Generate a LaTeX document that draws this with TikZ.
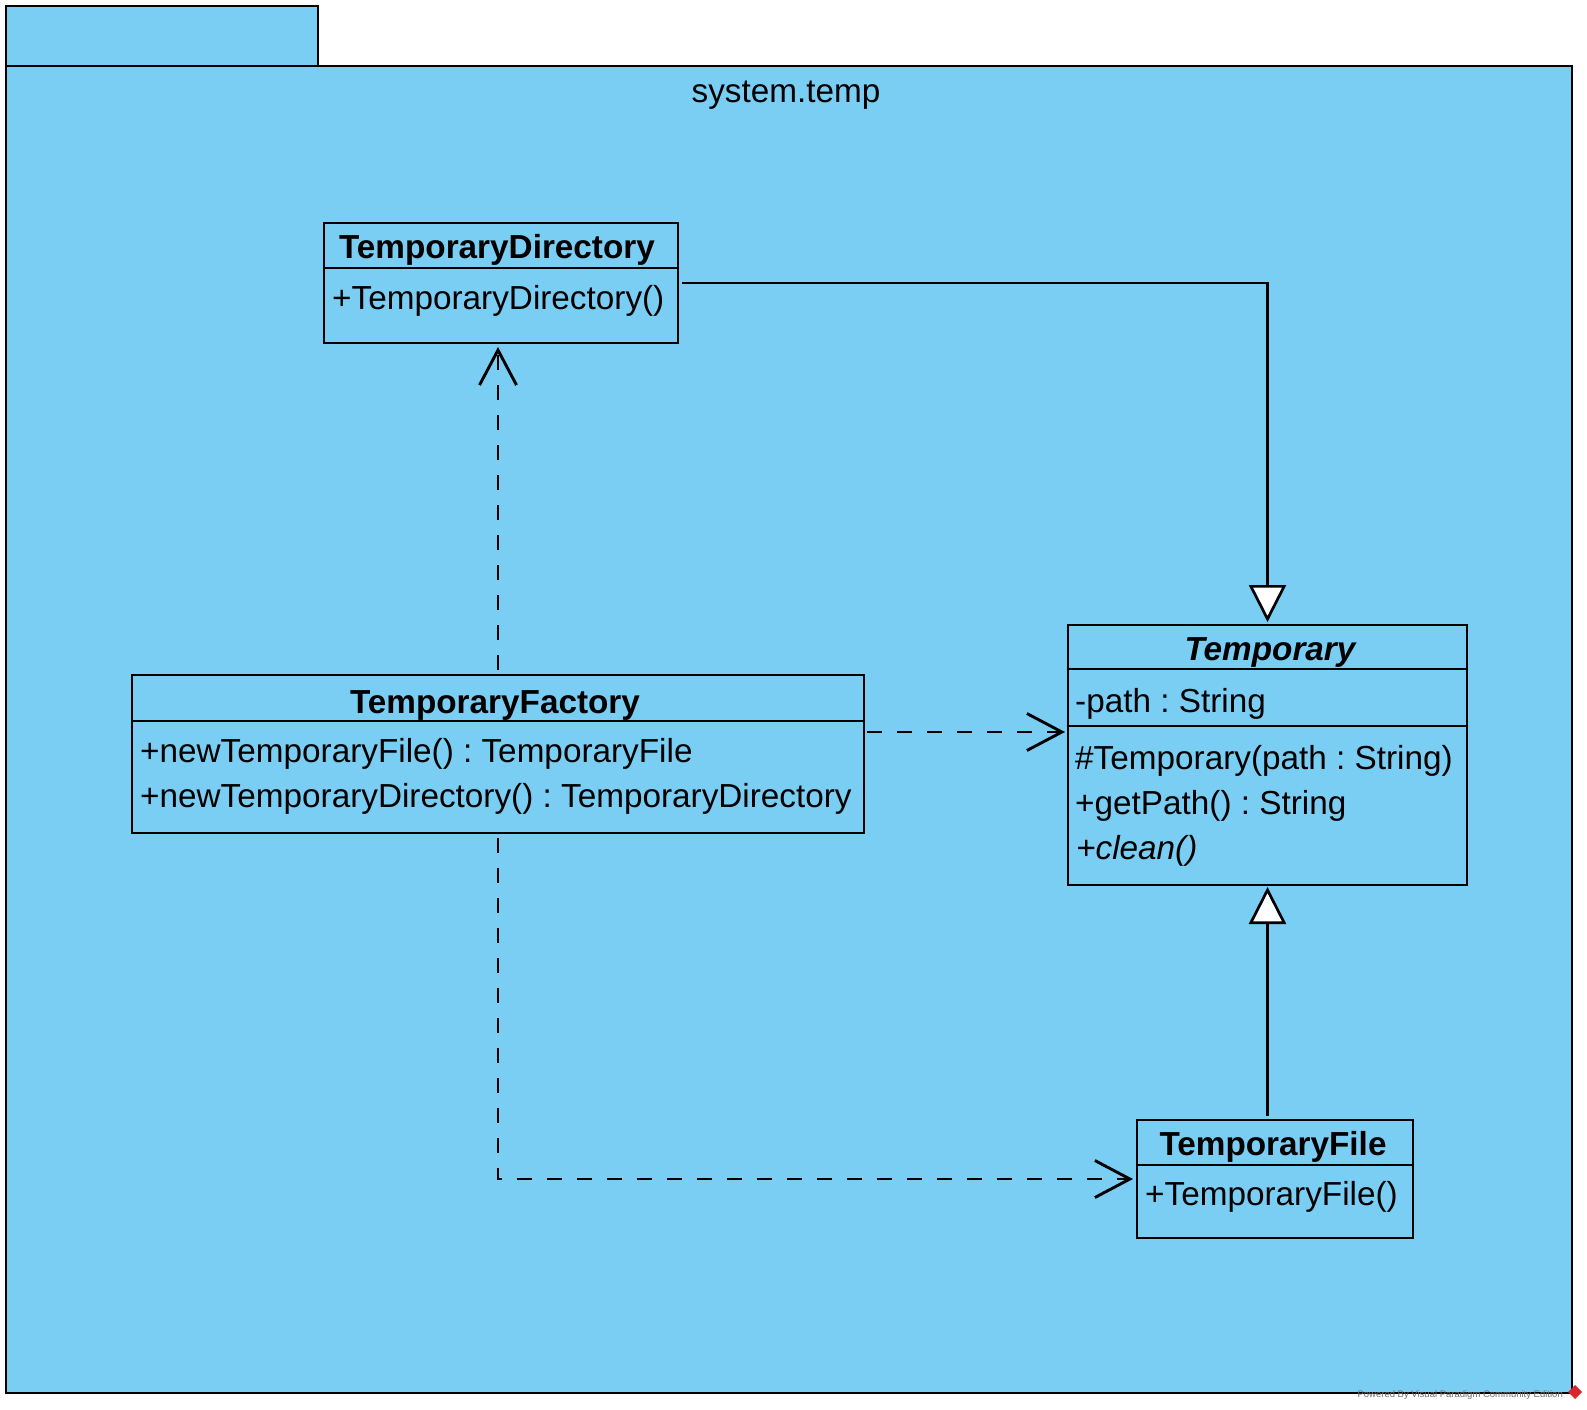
\documentclass[tikz,border=0pt]{standalone}
\usepackage{fontspec}
\setmainfont{Liberation Sans}
\usetikzlibrary{arrows.meta}
\definecolor{pkgblue}{RGB}{122,206,244}
\definecolor{wmgray}{RGB}{110,110,110}
\definecolor{wmred}{RGB}{215,40,45}
\begin{document}
\frenchspacing
\begin{tikzpicture}[x=1pt,y=-1pt,
  pkg/.style={draw=black, fill=pkgblue, line width=2.8pt},
  classbox/.style={draw=black, fill=pkgblue, line width=2.7pt, inner sep=0pt, outer sep=0pt, anchor=north west},
  sep/.style={draw=black, line width=2.7pt},
  cname/.style={font=\bfseries\fontsize{33.3}{40}\selectfont, anchor=base, inner sep=0pt},
  member/.style={font=\fontsize{33.3}{40}\selectfont, anchor=base west, inner sep=0pt},
  general/.style={draw=black, line width=2.7pt, line join=miter, -{Triangle[width=37pt,length=37pt,fill=white]}},
  depend/.style={draw=black, line width=2.9pt, dash pattern=on 15pt off 15pt, -{Straight Barb[width=37pt,length=35pt]}},
]
\useasboundingbox (0,0) rectangle (1587,1410);
% package
\path[pkg] (6,6) rectangle (318,66);
\path[pkg] (6,66) rectangle (1572,1393);
\node[font=\fontsize{33.3}{40}\selectfont, anchor=base, inner sep=0pt] (pkgname) at (786,103) {system.temp};

% classes
\node[classbox, minimum width=354pt, minimum height=120pt] (dir) at (324,223) {};
\draw[sep] ([yshift=-45pt]dir.north west) -- ([yshift=-45pt]dir.north east);
\node[cname] (dirname) at (497,258) {TemporaryDirectory};
\node[member] (dirm1) at (332,309) {+TemporaryDirectory()};

\node[classbox, minimum width=732pt, minimum height=158pt] (fac) at (132,675) {};
\draw[sep] ([yshift=-46pt]fac.north west) -- ([yshift=-46pt]fac.north east);
\node[cname] (facname) at (495,713) {TemporaryFactory};
\node[member] (facm1) at (140,762) {+newTemporaryFile() : TemporaryFile};
\node[member] (facm2) at (140,807) {+newTemporaryDirectory() : TemporaryDirectory};

\node[classbox, minimum width=399pt, minimum height=260pt] (tmp) at (1068,625) {};
\draw[sep] ([yshift=-44pt]tmp.north west) -- ([yshift=-44pt]tmp.north east);
\draw[sep] ([yshift=-101pt]tmp.north west) -- ([yshift=-101pt]tmp.north east);
\node[cname, font=\bfseries\itshape\fontsize{33.3}{40}\selectfont] (tmpname) at (1270,660) {Temporary};
\node[member] (tmpa1) at (1075,712) {-path : String};
\node[member] (tmpm1) at (1075,769) {\#Temporary(path : String)};
\node[member] (tmpm2) at (1075,814) {+getPath() : String};
\node[member, font=\itshape\fontsize{33.3}{40}\selectfont] (tmpm3) at (1076,859) {+clean()};

\node[classbox, minimum width=276pt, minimum height=118pt] (file) at (1137,1120) {};
\draw[sep] ([yshift=-45pt]file.north west) -- ([yshift=-45pt]file.north east);
\node[cname] (filename) at (1273,1155) {TemporaryFile};
\node[member] (filem1) at (1145,1205) {+TemporaryFile()};

% connectors
\coordinate (g1s) at ([xshift=4pt]dir.east);
\coordinate (g1e) at ([yshift=3pt]tmp.north);
\draw[general] (g1s) -| (g1e);

\coordinate (g2s) at ([yshift=4pt]tmp.south |- file.north);
\draw[general] (g2s) -- ([yshift=-2pt]tmp.south);

\coordinate (d1s) at ([yshift=5pt]fac.north);
\coordinate (d1c) at (fac.north |- dir.south);
\draw[depend] (d1s) -- ([yshift=-4pt]d1c);

\coordinate (d2s) at ([shift={(3pt,-57pt)}]fac.north east);
\coordinate (d2e) at (d2s -| tmp.west);
\draw[depend] (d2s) -- ([xshift=-3pt]d2e);

\coordinate (d3s) at ([yshift=-5pt]fac.south);
\coordinate (d3e) at ([xshift=-4pt]file.west);
\draw[depend] (d3s) |- (d3e);

% watermark
\node[font=\fontsize{9.5}{11}\selectfont, text=wmgray, anchor=base east, inner sep=0pt] (wm) at (1563,1397) {Powered By Visual Paradigm Community Edition};
\fill[wmred] (1575,1385) -- (1582,1392) -- (1575,1399) -- (1568,1392) -- cycle;
\end{tikzpicture}
\end{document}
